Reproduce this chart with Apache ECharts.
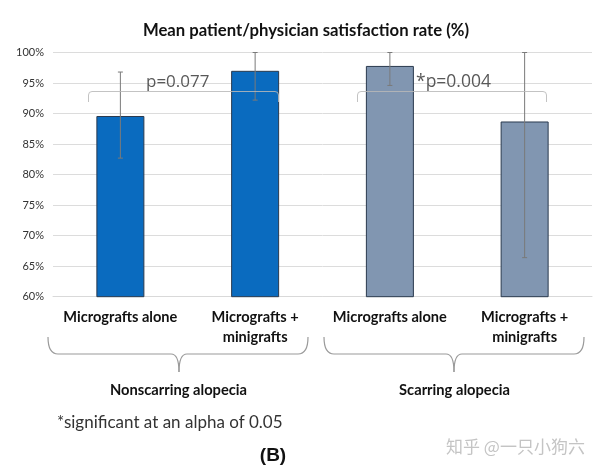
<!DOCTYPE html>
<html>
<head>
<meta charset="utf-8">
<script src="https://cdn.jsdelivr.net/npm/echarts@6/dist/echarts.min.js"></script>
<style>html,body{margin:0;padding:0;background:#fff}#c{width:600px;height:471px}</style>
</head>
<body>
<div id="c"></div>
<script>
var categories = ['Micrografts alone', 'Micrografts +\nminigrafts', 'Micrografts alone', 'Micrografts +\nminigrafts'];
var groups = ['Nonscarring alopecia', 'Scarring alopecia'];
var means = [89.6, 97.0, 97.8, 88.7];
var errLow = [82.7, 92.2, 94.6, 66.4];
var errHigh = [96.8, 100, 100, 100];
var barColors = ['#0a6bbf', '#0a6bbf', '#8196b1', '#8196b1'];
var pValues = ['p=0.077', '*p=0.004'];
var yTicks = [60, 65, 70, 75, 80, 85, 90, 95, 100];

var chart = echarts.init(document.getElementById('c'), null, {renderer: 'canvas'});

// segments: ['L', x, y] or ['Q', cx, cy, x, y]
function pathEls(start, segs, style, z) {
  var els = [], px = start[0], py = start[1];
  segs.forEach(function (s) {
    if (s[0] === 'L') {
      els.push({type: 'line', z: z, shape: {x1: px, y1: py, x2: s[1], y2: s[2]}, style: style});
      px = s[1]; py = s[2];
    } else {
      els.push({type: 'bezierCurve', z: z, shape: {x1: px, y1: py, cpx1: s[1], cpy1: s[2], x2: s[3], y2: s[4]}, style: style});
      px = s[3]; py = s[4];
    }
  });
  return els;
}
function bracket(x1, x2, y, yb) {
  var st = {fill: null, stroke: 'rgba(185,185,185,0.85)', lineWidth: 1};
  return pathEls([x1, yb], [['L', x1, y + 3.5], ['Q', x1, y, x1 + 3.5, y], ['L', x2 - 3.5, y], ['Q', x2, y, x2, y + 3.5], ['L', x2, yb]], st, 100);
}
function brace(x1, x2, xm, yt, yh, yp) {
  var st = {fill: null, stroke: '#9a9a9a', lineWidth: 1.2};
  return pathEls([x1, yt], [['Q', x1, yh, x1 + 10, yh], ['L', xm - 8, yh], ['Q', xm, yh, xm, yp], ['Q', xm, yh, xm + 8, yh], ['L', x2 - 10, yh], ['Q', x2, yh, x2, yt]], st, 10);
}

var option = {
  animation: false,
  grid: {left: 53, right: 8, top: 52.5, bottom: 174.3, containLabel: false},
  xAxis: {
    type: 'category', data: categories,
    axisLine: {show: true, lineStyle: {color: '#d9d9d9'}},
    axisTick: {show: false},
    axisLabel: {interval: 0, fontFamily: 'Lato', fontWeight: 'bold', fontSize: 14.6, lineHeight: 20, margin: 11, color: '#111'}
  },
  yAxis: {
    type: 'value', min: yTicks[0], max: yTicks[yTicks.length - 1], interval: 5,
    axisLine: {show: false}, axisTick: {show: false},
    axisLabel: {formatter: '{value}%', fontFamily: 'Lato', fontSize: 11, color: '#333', margin: 9},
    splitLine: {lineStyle: {color: '#dcdcdc', width: 1}}
  },
  series: [
    {
      type: 'bar', barWidth: 48,
      data: means.map(function (v, i) {
        return {value: v, itemStyle: {color: barColors[i]}};
      }),
      itemStyle: {borderColor: '#2a3a4e', borderWidth: 1}
    },
    {
      type: 'custom', z: 5,
      data: means.map(function (v, i) { return [i, errLow[i], errHigh[i]]; }),
      renderItem: function (params, api) {
        var lo = api.coord([api.value(0), api.value(1)]);
        var hi = api.coord([api.value(0), api.value(2)]);
        var x = lo[0], c = 2.5;
        var st = {stroke: '#7a7a7a', lineWidth: 1};
        return {type: 'group', children: [
          {type: 'line', shape: {x1: x, y1: lo[1], x2: x, y2: hi[1]}, style: st},
          {type: 'line', shape: {x1: x - c, y1: lo[1], x2: x + c, y2: lo[1]}, style: st},
          {type: 'line', shape: {x1: x - c, y1: hi[1], x2: x + c, y2: hi[1]}, style: st}
        ]};
      }
    }
  ],
  graphic: [
    {type: 'text', x: 306, y: 30.5, style: {text: 'Mean patient/physician satisfaction rate (%)', font: 'bold 16.7px Lato', fill: '#111', align: 'center', verticalAlign: 'middle'}},
    {type: 'text', z: 100, x: 146, y: 82, style: {text: pValues[0], font: '17px "Open Sans"', fill: '#595959', verticalAlign: 'middle'}},
    {type: 'text', z: 100, x: 416, y: 82, style: {text: pValues[1], font: '17.5px "Open Sans"', fill: '#595959', verticalAlign: 'middle'}},
    {type: 'text', x: 178.5, y: 390, style: {text: groups[0], font: 'bold 14.7px Lato', fill: '#111', align: 'center', verticalAlign: 'middle'}},
    {type: 'text', x: 454.5, y: 390, style: {text: groups[1], font: 'bold 14.7px Lato', fill: '#111', align: 'center', verticalAlign: 'middle'}},
    {type: 'text', x: 57, y: 423, style: {text: '*significant at an alpha of 0.05', font: '17px Lato', fill: '#333', verticalAlign: 'middle'}},
    {type: 'text', x: 273, y: 456, style: {text: '(B)', font: 'bold 19px "Liberation Sans"', fill: '#111', align: 'center', verticalAlign: 'middle'}},
    {type: 'text', x: 446, y: 447, style: {text: '知乎 @一只小狗六', font: '17px "Noto Sans CJK SC"', fill: '#c4c4c4', verticalAlign: 'middle'}}
  ]
   .concat(bracket(88.5, 278.5, 91.5, 102))
   .concat(bracket(357.5, 546.5, 91.5, 102))
   .concat(brace(48, 308, 179, 337, 354, 372))
   .concat(brace(324, 584, 454, 337, 354, 372))
};
chart.setOption(option);
</script>
</body>
</html>
